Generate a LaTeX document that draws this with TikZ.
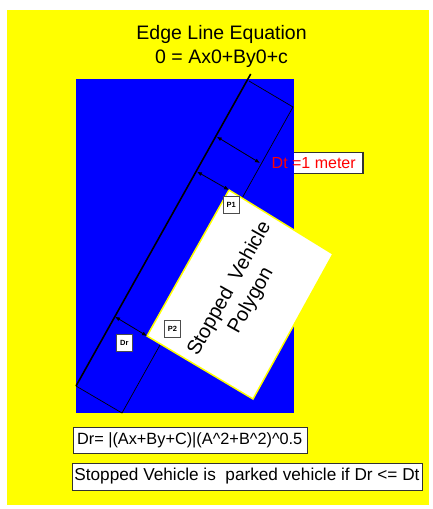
\documentclass[tikz,border=0pt]{standalone}
\usepackage{fontspec}
\setmainfont{Liberation Sans}
\usepackage{tikz}
\usetikzlibrary{arrows.meta, calc}

\definecolor{bgyellow}{RGB}{255,255,0}
\definecolor{zoneblue}{RGB}{0,0,255}
\definecolor{dtred}{RGB}{255,0,0}

\begin{document}
\begin{tikzpicture}[
    x=1pt, y=-1pt,
    labelbox/.style = {rectangle, draw=black!70, fill=white, inner sep=0pt,
                       minimum width=16pt, minimum height=17pt,
                       font=\fontsize{7.5}{9}\selectfont\bfseries},
    textbox/.style  = {rectangle, draw=black!80, fill=white, inner sep=0pt},
    arrow/.style    = {{Latex[length=5pt,width=4pt]}-{Latex[length=5pt,width=4pt]},
                       line width=0.8pt},
  ]
  \useasboundingbox (0,0) rectangle (432,509);
  \fill[bgyellow] (7,10) rectangle (429,505);

  % points of the edge line, the band and the vehicle
  \coordinate (lnTop)  at (250.7,74);
  \coordinate (bandA)  at (249,81);
  \coordinate (bandB)  at (293,107);
  \coordinate (bandC)  at (122,413);
  \coordinate (bandD)  at (76,386);
  \coordinate (pTop)   at (229,190);
  \coordinate (pRight) at (333,254);
  \coordinate (pBot)   at (253,399);
  \coordinate (pLeft)  at (147,336);
  \coordinate (dtFrom) at (216.7,136.7);
  \coordinate (dtTo)   at (260,163);
  \coordinate (p1From) at (197,171.7);
  \coordinate (drFrom) at (115,316.7);

  % Dt label box sits behind the blue area
  \draw[black!80, fill=white] (265,151.7) rectangle (363,173);
  \draw[black!80, line width=1.2pt] (363,151.7) -- (363,173);

  \fill[zoneblue] (76,79) rectangle (294,413);

  \draw[line width=0.7pt] (bandA) -- (bandB) -- (bandC) -- (bandD);
  \draw[line width=1.6pt] (lnTop) -- (bandD);

  \filldraw[fill=white, draw=bgyellow, line width=1.5pt]
    (pTop) -- (pRight) -- (pBot) -- (pLeft) -- cycle;

  \draw[arrow] (dtFrom) -- (dtTo);
  \draw[arrow] (p1From) -- (pTop);
  \draw[arrow] (drFrom) -- (pLeft);

  \node[labelbox] (p1) at (231.2,205) {P1};
  \node[labelbox] (p2) at (172.5,328.4) {P2};
  \node[labelbox] (dr) at (124.4,342.8) {Dr};

  \node[anchor=west, inner sep=0pt, text=dtred,
        font=\fontsize{16}{19}\selectfont] (dt) at (271.5,163) {Dt =1 meter};

  \node[rotate=60.7, align=center, inner sep=0pt,
        font=\fontsize{20}{24.6}\selectfont] (vehicle) at (240.5,294.7)
        {Stopped\ \ Vehicle\\Polygon};

  \node[align=center, inner sep=0pt,
        font=\fontsize{19.5}{24}\selectfont] (title) at (221.6,46)
        {Edge Line Equation\\0 = Ax0+By0+c};

  \node[textbox, minimum width=234pt, minimum height=26.3pt,
        font=\fontsize{16.3}{20}\selectfont]
        (drform) at (189.7,440) {Dr= |(Ax+By+C)|(A\textasciicircum 2+B\textasciicircum 2)\textasciicircum 0.5};
  \node[textbox, minimum width=350pt, minimum height=27pt,
        font=\fontsize{17.2}{20}\selectfont]
        (rule) at (247,476.5) {Stopped Vehicle is\ \ parked vehicle if Dr <= Dt};
\end{tikzpicture}
\end{document}
